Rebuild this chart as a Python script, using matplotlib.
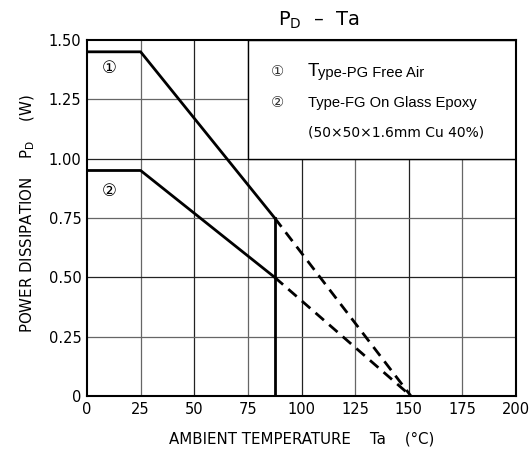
from matplotlib import pyplot as plt
from matplotlib.patches import Rectangle

# derating curves (Ta in degC, Pd in W)
ta_pg = [0, 25, 87.5]
pd_pg = [1.45, 1.45, 0.75]
ta_fg = [0, 25, 87.5]
pd_fg = [0.95, 0.95, 0.50]
ta_pg_ext = [87.5, 151]
pd_pg_ext = [0.75, 0.0]
ta_fg_ext = [87.5, 151]
pd_fg_ext = [0.50, 0.0]
ta_cut = 87.5

xticks = [0, 25, 50, 75, 100, 125, 150, 175, 200]
yticks = [0, 0.25, 0.50, 0.75, 1.00, 1.25, 1.50]
ylabels = ['0', '0.25', '0.50', '0.75', '1.00', '1.25', '1.50']

sym = ['DejaVu Sans', 'Noto Sans CJK JP']

fig = plt.figure(figsize=(5.31, 4.55), dpi=100)
ax = fig.add_axes([0.1638, 0.1297, 0.808, 0.7825])
ax.set_xlim(0, 200)
ax.set_ylim(0, 1.5)
ax.set_xticks(xticks)
ax.set_yticks(yticks)
ax.set_yticklabels(ylabels)
ax.tick_params(length=0, labelsize=10.5, pad=4)

for x in xticks[1:-1]:
    c = '#222222' if x % 50 == 0 else '#666666'
    ax.axvline(x, color=c, lw=0.9, zorder=1)
for y in yticks[1:-1]:
    c = '#222222' if abs(y * 2 - round(y * 2)) < 1e-9 else '#666666'
    ax.axhline(y, color=c, lw=0.9, zorder=1)

ax.add_patch(Rectangle((75, 1.0), 125, 0.5, facecolor='white',
                       edgecolor='black', lw=1.0, zorder=2))

ax.plot(ta_pg, pd_pg, color='black', lw=2, zorder=3)
ax.plot(ta_fg, pd_fg, color='black', lw=2, zorder=3)
ax.plot(ta_pg_ext, pd_pg_ext, color='black', lw=2, ls=(0, (4, 2.5)), zorder=3)
ax.plot(ta_fg_ext, pd_fg_ext, color='black', lw=2, ls=(0, (4, 2.5)), zorder=3)
ax.plot([ta_cut, ta_cut], [0, 0.75], color='black', lw=2, zorder=3)

for s in ax.spines.values():
    s.set_linewidth(1.5)
    s.set_zorder(4)

ax.text(10.5, 1.38, '①', family=sym, fontsize=12, ha='center', va='center', zorder=5)
ax.text(10.5, 0.865, '②', family=sym, fontsize=12, ha='center', va='center', zorder=5)

ax.text(89, 1.365, '①', family=sym, fontsize=10.5, ha='center', va='center', color='#333333', zorder=5)
ax.text(89, 1.235, '②', family=sym, fontsize=10.5, ha='center', va='center', color='#333333', zorder=5)
ax.text(103, 1.368, 'T', family='Liberation Sans', fontsize=13.5, ha='left', va='center', zorder=5)
ax.text(107.8, 1.36, 'ype-PG Free Air', family='Liberation Sans', fontsize=10.6, ha='left', va='center', zorder=5)
ax.text(103, 1.235, 'Type-FG On Glass Epoxy', family='Liberation Sans', fontsize=10.6, ha='left', va='center', zorder=5)
ax.text(103, 1.11, '(50×50×1.6mm Cu 40%)', family=sym, fontsize=10, ha='left', va='center', zorder=5)

fig.text(0.6, 0.955, r'P$_\mathregular{D}$  –  Ta', fontsize=14, ha='center', va='center')
fig.text(0.569, 0.035, 'AMBIENT TEMPERATURE    Ta    (°C)', fontsize=10.8, ha='center', va='center')
fig.text(0.052, 0.53, r'POWER DISSIPATION    P$_\mathregular{D}$    (W)', fontsize=10.8,
         ha='center', va='center', rotation=90)

fig.savefig('out.png', dpi=100)
